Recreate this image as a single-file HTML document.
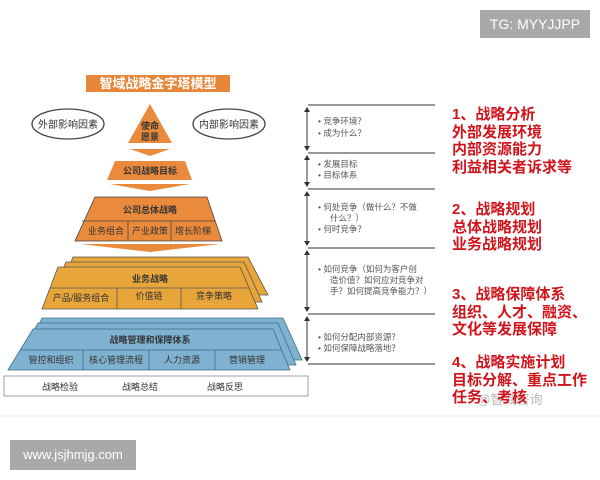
<!DOCTYPE html>
<html><head><meta charset="utf-8"><style>
body{margin:0;width:600px;height:480px;background:#fff;overflow:hidden;position:relative;font-family:"Liberation Sans","Noto Sans CJK SC",sans-serif}
.tg{position:absolute;left:480px;top:10px;width:110px;height:28px;background:#a9a9a9;color:#fff;font-size:14px;line-height:28px;text-align:center}
.www{position:absolute;left:10px;top:440px;width:126px;height:30px;background:#a9a9a9;color:#fff;font-size:13px;line-height:30px;text-align:center}
.red{position:absolute;left:452px;color:#d0141c;font-size:15px;font-weight:bold;line-height:17.5px;font-family:"Liberation Sans","Noto Sans CJK SC",sans-serif}
</style></head><body>
<svg width="600" height="480" style="position:absolute;left:0;top:0" font-family="Liberation Sans, Noto Sans CJK SC, sans-serif">
<line x1="0" y1="416" x2="600" y2="416" stroke="#eee"/>
<rect x="86" y="75" width="144" height="17" fill="#e8873a"/>
<text x="158" y="88" font-size="13" font-weight="bold" fill="#fff" text-anchor="middle">智域战略金字塔模型</text>
<ellipse cx="68" cy="124" rx="36" ry="15" fill="#fff" stroke="#444" stroke-width="1.3"/>
<text x="68" y="128" font-size="10" text-anchor="middle" fill="#333">外部影响因素</text>
<ellipse cx="229" cy="124" rx="36" ry="15" fill="#fff" stroke="#444" stroke-width="1.3"/>
<text x="229" y="128" font-size="10" text-anchor="middle" fill="#333">内部影响因素</text>
<polygon points="150,104 172,143 128,143" fill="#ea8a3c"/>
<text x="150" y="129" font-size="9" text-anchor="middle" font-weight="bold" fill="#333">使命</text>
<text x="150" y="140" font-size="9" text-anchor="middle" font-weight="bold" fill="#333">愿景</text>
<polygon points="130,149 170,149 150,156" fill="#ea8a3c"/>
<polygon points="115,161 185,161 192,180 107,180" fill="#ea8a3c"/>
<text x="150" y="174" font-size="9" text-anchor="middle" font-weight="bold" fill="#333">公司战略目标</text>
<polygon points="110,184 190,184 150,191" fill="#ea8a3c"/>
<polygon points="95,197 207,197 222,241 75,241" fill="#ea8a3c" stroke="#444" stroke-width="0.8"/>
<line x1="82" y1="221" x2="215" y2="221" stroke="#444" stroke-width="0.8"/>
<line x1="128" y1="221" x2="128" y2="241" stroke="#444" stroke-width="0.8"/>
<line x1="171" y1="221" x2="171" y2="241" stroke="#444" stroke-width="0.8"/>
<text x="150" y="213" font-size="9" text-anchor="middle" font-weight="bold" fill="#333">公司总体战略</text>
<text x="106" y="234" font-size="9" text-anchor="middle" fill="#333">业务组合</text>
<text x="150" y="234" font-size="9" text-anchor="middle" fill="#333">产业政策</text>
<text x="193" y="234" font-size="9" text-anchor="middle" fill="#333">增长阶梯</text>
<polygon points="80,244 220,244 150,252" fill="#ea8a3c"/>
<polygon points="73,257 248,257 268,295 58,295" fill="#e8a53a" stroke="#555" stroke-width="0.8"/>
<polygon points="66,262 244,262 262,302 50,302" fill="#e8a53a" stroke="#555" stroke-width="0.8"/>
<polygon points="58,267 240,267 258,309 42,309" fill="#e8a53a" stroke="#555" stroke-width="0.8"/>
<line x1="50" y1="288" x2="249" y2="288" stroke="#555" stroke-width="0.8"/>
<line x1="117" y1="288" x2="117" y2="309" stroke="#555" stroke-width="0.8"/>
<line x1="181" y1="288" x2="181" y2="309" stroke="#555" stroke-width="0.8"/>
<text x="150" y="282" font-size="9" text-anchor="middle" font-weight="bold" fill="#333">业务战略</text>
<text x="81" y="301" font-size="9" text-anchor="middle" fill="#333">产品/服务组合</text>
<text x="149" y="299" font-size="9" text-anchor="middle" fill="#333">价值链</text>
<text x="214" y="299" font-size="9" text-anchor="middle" fill="#333">竞争策略</text>
<polygon points="42,318 283,318 302,360 22,360" fill="#7fb2d0" stroke="#3c6d8a" stroke-width="0.8"/>
<polygon points="38,323 278,323 296,365 15,365" fill="#7fb2d0" stroke="#3c6d8a" stroke-width="0.8"/>
<polygon points="33,329 273,329 290,370 8,370" fill="#7fb2d0" stroke="#3c6d8a" stroke-width="0.8"/>
<line x1="20" y1="350" x2="282" y2="350" stroke="#3c6d8a" stroke-width="0.8"/>
<line x1="83" y1="350" x2="83" y2="370" stroke="#3c6d8a" stroke-width="0.8"/>
<line x1="149" y1="350" x2="149" y2="370" stroke="#3c6d8a" stroke-width="0.8"/>
<line x1="215" y1="350" x2="215" y2="370" stroke="#3c6d8a" stroke-width="0.8"/>
<text x="150" y="343" font-size="9" text-anchor="middle" font-weight="bold" fill="#333">战略管理和保障体系</text>
<text x="51" y="363" font-size="9" text-anchor="middle" fill="#333">管控和组织</text>
<text x="116" y="363" font-size="9" text-anchor="middle" fill="#333">核心管理流程</text>
<text x="182" y="363" font-size="9" text-anchor="middle" fill="#333">人力资源</text>
<text x="247" y="363" font-size="9" text-anchor="middle" fill="#333">营销管理</text>
<rect x="4" y="376" width="304" height="20" fill="#fff" stroke="#888" stroke-width="0.8"/>
<text x="60" y="390" font-size="9" text-anchor="middle" fill="#333">战略检验</text>
<text x="140" y="390" font-size="9" text-anchor="middle" fill="#333">战略总结</text>
<text x="225" y="390" font-size="9" text-anchor="middle" fill="#333">战略反思</text>
<g stroke="#333" stroke-width="1">
<line x1="308" y1="105" x2="435" y2="105"/><line x1="308" y1="153" x2="435" y2="153"/>
<line x1="308" y1="189" x2="435" y2="189"/><line x1="308" y1="248" x2="435" y2="248"/>
<line x1="308" y1="314" x2="435" y2="314"/><line x1="308" y1="364" x2="435" y2="364"/>
<line x1="307" y1="109" x2="307" y2="149"/><line x1="307" y1="157" x2="307" y2="185"/>
<line x1="307" y1="193" x2="307" y2="244"/><line x1="307" y1="252" x2="307" y2="310"/>
<line x1="307" y1="318" x2="307" y2="360"/>
</g>
<g fill="#333">
<polygon points="307,107 304,112 310,112"/><polygon points="307,151 304,146 310,146"/>
<polygon points="307,155 304,160 310,160"/><polygon points="307,187 304,182 310,182"/>
<polygon points="307,191 304,196 310,196"/><polygon points="307,246 304,241 310,241"/>
<polygon points="307,250 304,255 310,255"/><polygon points="307,312 304,307 310,307"/>
<polygon points="307,316 304,321 310,321"/><polygon points="307,362 304,357 310,357"/>
</g>
<g font-size="8.5" fill="#555">
<text x="318" y="124">•  竞争环境？</text><text x="318" y="136">•  成为什么？</text>
<text x="318" y="167">•  发展目标</text><text x="318" y="178">•  目标体系</text>
<text x="318" y="210">•  何处竞争（做什么？不做</text><text x="330" y="221">什么？）</text><text x="318" y="232">•  何时竞争？</text>
<text x="318" y="272">•  如何竞争（如何为客户创</text><text x="330" y="283">造价值？如何应对竞争对</text><text x="330" y="294">手？如何提高竞争能力？）</text>
<text x="318" y="340">•  如何分配内部资源？</text><text x="318" y="351">•  如何保障战略落地？</text>
</g>
<text x="510" y="404" font-size="13" fill="#bbb" text-anchor="middle">@智域咨询</text>
</svg>
<div class="red" style="top:106px">1、战略分析<br>外部发展环境<br>内部资源能力<br>利益相关者诉求等</div>
<div class="red" style="top:201px">2、战略规划<br>总体战略规划<br>业务战略规划</div>
<div class="red" style="top:286px">3、战略保障体系<br>组织、人才、融资、<br>文化等发展保障</div>
<div class="red" style="top:354px">4、战略实施计划<br>目标分解、重点工作<br>任务、考核</div>
<div class="tg">TG: MYYJJPP</div>
<div class="www">www.jsjhmjg.com</div>
</body></html>
